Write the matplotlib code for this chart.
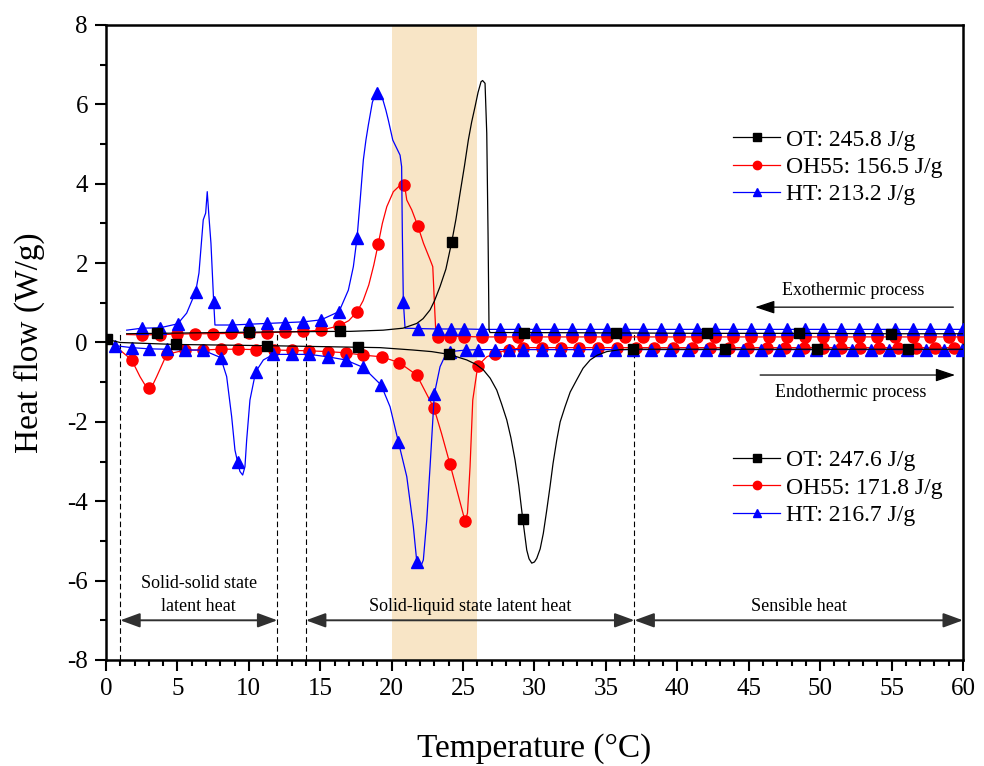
import numpy as np
import matplotlib
matplotlib.use("Agg")
import matplotlib.pyplot as plt
from matplotlib.lines import Line2D
from matplotlib.ticker import MultipleLocator

plt.rcParams['font.family'] = ['Liberation Serif', 'DejaVu Serif']
plt.rcParams['axes.unicode_minus'] = False

# ---------------- cooling scans (exothermic, positive heat flow) ----------------
# shape points of each trace, then the sampled points carrying the symbols
ot_exo_T = [1.45, 17.1, 19.4, 20.8, 21.76, 22.2, 22.69, 23.0, 23.39, 23.8, 24.5,
            24.79, 25.1, 25.37, 25.6, 25.84, 26.05, 26.26, 26.37, 26.54, 26.66,
            26.75, 26.82, 26.89, 60.0]
ot_exo_H = [0.22, 0.28, 0.31, 0.36, 0.48, 0.60, 0.82, 1.05, 1.41, 1.85, 3.10,
            3.76, 4.45, 5.10, 5.55, 5.94, 6.30, 6.57, 6.60, 6.53, 5.27,
            2.75, 0.31, 0.25, 0.22]
ot_exo_mT = [3.55, 10.0, 16.4, 24.2, 29.27, 35.7, 42.1, 48.55, 54.97]
ot_exo_mH = [0.23, 0.26, 0.28, 2.52, 0.25, 0.24, 0.23, 0.23, 0.22]

oh_exo_T = [1.45, 17.0, 18.0, 18.4, 18.75, 19.35, 19.66, 20.12, 20.5, 21.06,
            21.41, 22.23, 22.7, 22.88, 23.04, 23.11, 60.0]
oh_exo_H = [0.20, 0.55, 1.05, 1.45, 1.95, 3.00, 3.42, 3.80, 3.93, 3.59,
            3.34, 2.50, 2.08, 1.91, 0.65, 0.15, 0.14]
oh_exo_mT = [2.5, 3.75, 5.0, 6.26, 7.5, 8.78, 10.03, 11.29, 12.55, 13.8, 15.06,
             16.32, 17.59, 19.06, 20.9, 21.83, 23.28, 24.1, 25.1, 26.35, 27.6,
             28.87, 30.1, 31.4, 32.6, 33.9, 35.1, 36.35, 37.62, 38.87, 40.13,
             41.39, 42.65, 43.91, 45.17, 46.43, 47.67, 48.93, 50.19, 51.45,
             52.71, 53.97, 55.23, 56.49, 57.7, 58.99, 60.0]
oh_exo_mH = [0.19, 0.20, 0.21, 0.22, 0.22, 0.23, 0.24, 0.25, 0.26, 0.28, 0.31,
             0.42, 0.78, 2.48, 3.98, 2.94, 0.15, 0.15, 0.15, 0.14, 0.14,
             0.14, 0.14, 0.14, 0.14, 0.14, 0.14, 0.14, 0.14, 0.14, 0.14,
             0.14, 0.14, 0.14, 0.14, 0.14, 0.14, 0.14, 0.14, 0.14,
             0.14, 0.14, 0.14, 0.14, 0.14, 0.14, 0.14]

ht_exo_T = [1.45, 5.65, 6.51, 6.81, 6.98, 7.09, 7.21, 7.35, 7.63, 16.97, 17.32,
            17.8, 18.02, 18.2, 18.37, 18.65, 18.85, 19.2, 19.4, 19.6, 19.77,
            20.08, 20.59, 20.7, 20.75, 20.94]
ht_exo_H = [0.31, 0.74, 1.75, 3.09, 3.26, 3.80, 3.17, 2.50, 0.44, 1.32, 1.91,
            3.60, 4.60, 5.10, 5.48, 6.05, 6.25, 6.25, 6.10, 5.85, 5.60,
            5.10, 4.72, 4.43, 2.75, 0.36]
ht_exo_mT = [2.5, 3.78, 5.02, 6.28, 7.54, 8.8, 10.04, 11.3, 12.56, 13.82, 15.06,
             16.32, 17.58, 19.0, 20.82, 21.87, 23.28, 24.16, 25.1, 26.35, 27.6,
             28.87, 30.1, 31.4, 32.6, 33.9, 35.1, 36.35, 37.62, 38.87, 40.13,
             41.39, 42.65, 43.91, 45.17, 46.43, 47.67, 48.93, 50.19, 51.45,
             52.71, 53.97, 55.23, 56.49, 57.7, 58.99, 60.0]
ht_exo_mH = [0.36, 0.37, 0.47, 1.28, 1.03, 0.44, 0.46, 0.48, 0.50, 0.52, 0.57,
             0.78, 2.64, 6.29, 1.03, 0.35, 0.34, 0.34, 0.34, 0.33, 0.33,
             0.33, 0.33, 0.33, 0.33, 0.33, 0.33, 0.33, 0.33, 0.33, 0.33,
             0.33, 0.33, 0.33, 0.33, 0.33, 0.33, 0.33, 0.33, 0.33,
             0.33, 0.33, 0.33, 0.33, 0.33, 0.33, 0.33]

# ---------------- heating scans (endothermic, negative heat flow) ----------------
ot_endo_T = [0.98, 19.19, 21.5, 22.8, 25.26, 25.9, 26.42, 26.9, 27.36, 27.7, 28.06,
             28.35, 28.64, 28.9, 29.46, 29.62, 29.81, 30.0, 30.16, 30.4, 30.62,
             30.85, 31.09, 31.3, 31.56, 31.8, 32.14, 32.5, 32.96, 33.4, 33.9,
             34.4, 35.06, 36.0, 60.0]
ot_endo_H = [0.0, -0.13, -0.19, -0.23, -0.44, -0.55, -0.69, -0.90, -1.20, -1.55,
             -1.95, -2.40, -2.96, -3.60, -5.23, -5.45, -5.56, -5.53, -5.44, -5.20,
             -4.81, -4.25, -3.63, -3.05, -2.46, -2.00, -1.62, -1.25, -0.94, -0.65,
             -0.44, -0.32, -0.23, -0.18, -0.17]
ot_endo_mT = [0.05, 4.88, 11.25, 17.62, 24.04, 29.18, 36.93, 43.35, 49.77, 56.18]
ot_endo_mH = [0.08, -0.05, -0.08, -0.12, -0.30, -4.45, -0.17, -0.17, -0.17, -0.17]

oh_endo_T = [0.0, 0.98, 2.38, 2.7, 3.3, 3.55, 23.5, 25.31, 25.49, 25.68, 26.66,
             28.06, 60.0]
oh_endo_H = [0.06, -0.19, -0.86, -1.05, -1.05, -0.86, -2.30, -4.30, -3.13, -1.45,
             -0.36, -0.19, -0.13]
oh_endo_mT = [1.8, 3.01, 4.25, 5.53, 6.77, 8.03, 9.27, 10.52, 11.76, 13.0, 14.24,
              15.52, 16.78, 18.02, 19.3, 20.54, 21.76, 22.97, 24.09, 25.14, 26.03,
              27.24, 28.23, 29.22, 30.53, 31.84, 33.15, 34.46, 35.77, 37.08,
              38.39, 39.7, 41.01, 42.32, 43.63, 44.94, 46.25, 47.56, 48.87,
              50.18, 51.49, 52.8, 54.11, 55.42, 56.73, 58.04, 59.35]
oh_endo_mH = [-0.44, -1.14, -0.30, -0.19, -0.19, -0.17, -0.17, -0.18, -0.19, -0.20,
              -0.21, -0.23, -0.26, -0.32, -0.36, -0.51, -0.82, -1.66, -3.07, -4.50,
              -0.59, -0.28, -0.18, -0.13, -0.13, -0.13, -0.13, -0.13, -0.13, -0.13,
              -0.13, -0.13, -0.13, -0.13, -0.13, -0.13, -0.13, -0.13, -0.13,
              -0.13, -0.13, -0.13, -0.13, -0.13, -0.13, -0.13, -0.13]

ht_endo_T = [0.0, 8.45, 8.8, 9.03, 9.38, 9.57, 9.73, 9.85, 10.08, 11.02, 19.89,
             21.06, 21.52, 21.99, 22.22, 22.46, 22.69, 23.39, 23.7, 60.0]
ht_endo_H = [0.06, -0.86, -1.87, -2.71, -3.25, -3.34, -3.13, -2.46, -1.45, -0.44,
             -1.62, -3.38, -4.64, -5.69, -5.48, -4.47, -3.13, -0.61, -0.37, -0.18]
ht_endo_mT = [0.63, 1.8, 3.01, 4.25, 5.53, 6.77, 8.03, 9.22, 10.48, 11.72, 13.0,
              14.24, 15.52, 16.78, 18.02, 19.26, 20.47, 21.76, 22.99, 24.09, 25.21,
              26.03, 27.24, 28.23, 29.22, 30.5, 31.78, 33.06, 34.34, 35.62, 36.9,
              38.18, 39.46, 40.74, 42.02, 43.3, 44.58, 45.86, 47.14, 48.42, 49.7,
              50.98, 52.26, 53.54, 54.82, 56.1, 57.38, 58.66, 59.94]
ht_endo_mH = [-0.08, -0.13, -0.16, -0.17, -0.19, -0.19, -0.38, -3.02, -0.74, -0.30,
              -0.30, -0.30, -0.36, -0.44, -0.63, -1.07, -2.50, -5.52, -1.30, -0.23,
              -0.19, -0.18, -0.18, -0.18, -0.18, -0.18, -0.18, -0.18, -0.18, -0.18,
              -0.18, -0.18, -0.18, -0.18, -0.18, -0.18, -0.18, -0.18, -0.18, -0.18,
              -0.18, -0.18, -0.18, -0.18, -0.18, -0.18, -0.18, -0.18, -0.18]

exo_labels = ["OT: 245.8 J/g", "OH55: 156.5 J/g", "HT: 213.2 J/g"]
endo_labels = ["OT: 247.6 J/g", "OH55: 171.8 J/g", "HT: 216.7 J/g"]

# region boundaries (degC) and their captions
bounds = [1, 12, 14, 37]
regions = [(1, 12, "Solid-solid state\nlatent heat", -6.36),
           (14, 37, "Solid-liquid state latent heat", -6.66),
           (37, 60, "Sensible heat", -6.66)]
band = (20, 26)


def merge(line_T, line_H, mark_T, mark_H):
    T = np.concatenate([line_T, mark_T])
    H = np.concatenate([line_H, mark_H])
    order = np.argsort(T, kind="stable")
    return T[order], H[order]


styles = {
    "OT": dict(color="black", marker="s", ms=7, z=5),
    "OH55": dict(color="#ff0000", marker="o", ms=8, z=3),
    "HT": dict(color="#0000ff", marker="^", ms=9, z=4),
}

fig = plt.figure(figsize=(9.84, 7.66), dpi=100)
ax = fig.add_axes([0.1077, 0.1384, 0.8709, 0.829])

ax.axvspan(*band, color="#f8e5c6", lw=0, zorder=0)

series = [
    ("OH55", oh_exo_T, oh_exo_H, oh_exo_mT, oh_exo_mH),
    ("OH55", oh_endo_T, oh_endo_H, oh_endo_mT, oh_endo_mH),
    ("HT", ht_exo_T, ht_exo_H, ht_exo_mT, ht_exo_mH),
    ("HT", ht_endo_T, ht_endo_H, ht_endo_mT, ht_endo_mH),
    ("OT", ot_exo_T, ot_exo_H, ot_exo_mT, ot_exo_mH),
    ("OT", ot_endo_T, ot_endo_H, ot_endo_mT, ot_endo_mH),
]
for name, lt, lh, mt, mh in series:
    st = styles[name]
    T, H = merge(lt, lh, mt, mh)
    ax.plot(T, H, color=st["color"], lw=0.9, zorder=st["z"])
    ax.plot(mt, mh, ls="none", marker=st["marker"], ms=st["ms"],
            color=st["color"], mec=st["color"], zorder=st["z"])

# dashed region boundaries
for b in bounds:
    ax.plot([b, b], [-8, 0.3], color="black", lw=0.8, dashes=(5, 3), zorder=2)

# double arrows and captions for the heat regions
for x0, x1, text, ty in regions:
    ax.annotate("", xy=(x0, -7.0), xytext=(x1, -7.0),
                arrowprops=dict(arrowstyle="<|-|>,head_length=0.6,head_width=0.22",
                                color="#303030", lw=1.4, mutation_scale=20,
                                shrinkA=0, shrinkB=0))
    ax.text((x0 + x1) / 2, ty, text, ha="center", va="center",
            fontsize=13, linespacing=1.5)

# process direction arrows
ax.annotate("", xy=(45.45, 0.89), xytext=(59.33, 0.89),
            arrowprops=dict(arrowstyle="-|>,head_length=0.6,head_width=0.2",
                            color="black", lw=0.9, mutation_scale=20,
                            shrinkA=0, shrinkB=0))
ax.text(52.35, 1.3, "Exothermic process", ha="center", va="center", fontsize=13)
ax.annotate("", xy=(59.45, -0.82), xytext=(45.8, -0.82),
            arrowprops=dict(arrowstyle="-|>,head_length=0.6,head_width=0.2",
                            color="black", lw=0.9, mutation_scale=20,
                            shrinkA=0, shrinkB=0))
ax.text(52.15, -1.26, "Endothermic process", ha="center", va="center", fontsize=13)

# legends: cooling on top, heating below
handles = [Line2D([], [], color=styles[k]["color"], lw=0.9, marker=styles[k]["marker"],
                  ms=6, mec=styles[k]["color"]) for k in ("OT", "OH55", "HT")]
leg_kw = dict(loc="center left", frameon=False, fontsize=17, handlelength=2.0,
              handletextpad=0.25, labelspacing=0.25, borderpad=0, borderaxespad=0,
              numpoints=1)
leg1 = ax.legend(handles, exo_labels, bbox_to_anchor=(0.732, 0.776), **leg_kw)
ax.add_artist(leg1)
ax.legend(handles, endo_labels, bbox_to_anchor=(0.732, 0.271), **leg_kw)

ax.set_xlim(0, 60)
ax.set_ylim(-8, 8)
ax.xaxis.set_major_locator(MultipleLocator(5))
ax.xaxis.set_minor_locator(MultipleLocator(1))
ax.yaxis.set_major_locator(MultipleLocator(2))
ax.yaxis.set_minor_locator(MultipleLocator(1))
ax.tick_params(which="both", direction="out", width=1.5, top=False, right=False,
               labelsize=18)
ax.tick_params(which="major", length=8, pad=5)
ax.tick_params(which="minor", length=4.5)
for sp in ax.spines.values():
    sp.set_linewidth(1.8)

ax.set_xlabel("Temperature (°C)", fontsize=24, labelpad=24)
ax.set_ylabel("Heat flow (W/g)", fontsize=24, labelpad=16)

fig.savefig("out.png", dpi=100)
